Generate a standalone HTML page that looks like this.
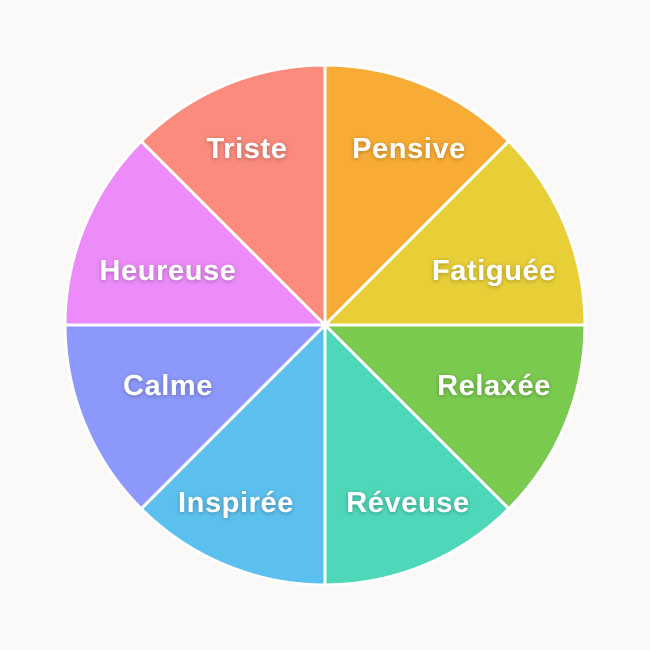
<!DOCTYPE html>
<html><head><meta charset="utf-8"><style>
html,body{margin:0;padding:0;background:#FBF9F7;}
svg{display:block}
text{font-family:"Liberation Sans",sans-serif;font-weight:bold;font-size:29px;letter-spacing:0.6px;fill:#fff;text-anchor:middle;}
</style></head><body>
<svg width="650" height="650" viewBox="0 0 650 650">
<defs><filter id="s" x="-20%" y="-50%" width="140%" height="200%"><feDropShadow dx="0" dy="1" stdDeviation="2" flood-color="#000" flood-opacity="0.3"/></filter></defs>
<rect width="650" height="650" fill="#FBF9F7"/>
<g stroke="#fff" stroke-width="3" stroke-linejoin="round">
<path d="M325 325 L325 65 A260 260 0 0 1 508.8 141.2 Z" fill="#F9AC35"/>
<path d="M325 325 L508.8 141.2 A260 260 0 0 1 585 325 Z" fill="#E8CE37"/>
<path d="M325 325 L585 325 A260 260 0 0 1 508.8 508.8 Z" fill="#7ACA4F"/>
<path d="M325 325 L508.8 508.8 A260 260 0 0 1 325 585 Z" fill="#4FD7BA"/>
<path d="M325 325 L325 585 A260 260 0 0 1 141.2 508.8 Z" fill="#5CC0EE"/>
<path d="M325 325 L141.2 508.8 A260 260 0 0 1 65 325 Z" fill="#8C98FB"/>
<path d="M325 325 L65 325 A260 260 0 0 1 141.2 141.2 Z" fill="#EC8BF9"/>
<path d="M325 325 L141.2 141.2 A260 260 0 0 1 325 65 Z" fill="#FA8B7D"/>
</g>
<g filter="url(#s)">
<text x="247" y="158">Triste</text>
<text x="409" y="158">Pensive</text>
<text x="494" y="280">Fatiguée</text>
<text x="494" y="395">Relaxée</text>
<text x="408" y="512">Réveuse</text>
<text x="236" y="512">Inspirée</text>
<text x="168" y="395">Calme</text>
<text x="168" y="280">Heureuse</text>
</g>
</svg>
</body></html>
